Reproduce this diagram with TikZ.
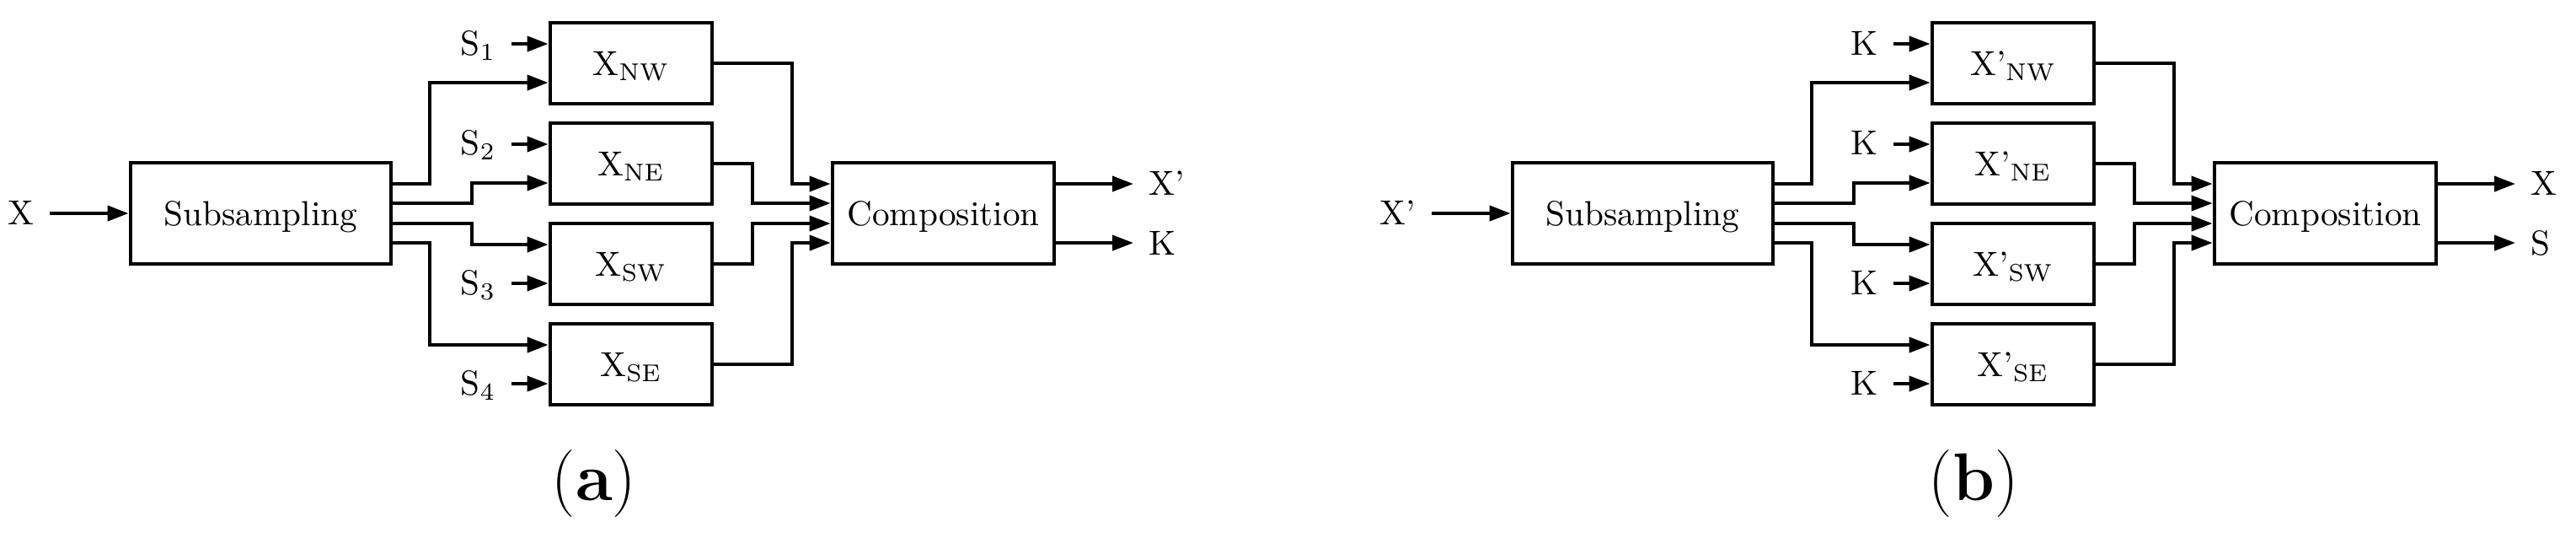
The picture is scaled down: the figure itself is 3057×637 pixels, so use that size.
\documentclass[tikz,border=0pt]{standalone}
\usepackage{fontspec}
\usetikzlibrary{arrows.meta,calc}
\newcommand\dfont{\fontsize{10.3pt}{12pt}\selectfont}
\newcommand\capfont{\fontsize{20pt}{24pt}\selectfont}
\newcommand\wiring[1]{%
  \coordinate (#1c1) at (510,0);
  \coordinate (#1c2) at (560,0);
  \coordinate (#1c3) at (893,0);
  \coordinate (#1c4) at (940,0);
  \coordinate (#1so1) at ([yshift=8.75pt]#1sub.east);
  \coordinate (#1so2) at ([yshift=3pt]#1sub.east);
  \coordinate (#1so3) at ([yshift=-3pt]#1sub.east);
  \coordinate (#1so4) at ([yshift=-8.75pt]#1sub.east);
  \coordinate (#1ci1) at ([yshift=8.75pt]#1comp.west);
  \coordinate (#1ci2) at ([yshift=3pt]#1comp.west);
  \coordinate (#1ci3) at ([yshift=-3pt]#1comp.west);
  \coordinate (#1ci4) at ([yshift=-8.75pt]#1comp.west);
  \coordinate (#1co1) at ([yshift=8.75pt]#1comp.east);
  \coordinate (#1co2) at ([yshift=-8.75pt]#1comp.east);
  \foreach \b in {nw,ne,sw,se}{
    \coordinate (#1\b A) at ([yshift=5.75pt]#1\b.west);
    \coordinate (#1\b B) at ([yshift=-5.75pt]#1\b.west);
  }
  \draw[conn] (#1in.east |- #1sub) -- (#1sub.west);
  \draw[conn] (#1so1) -| (#1c1 |- #1nwB) -- (#1nwB);
  \draw[conn] (#1so2) -| (#1c2 |- #1neB) -- (#1neB);
  \draw[conn] (#1so3) -| (#1c2 |- #1swA) -- (#1swA);
  \draw[conn] (#1so4) -| (#1c1 |- #1seA) -- (#1seA);
  \draw[conn] (#1s1.east |- #1nwA) -- (#1nwA);
  \draw[conn] (#1s2.east |- #1neA) -- (#1neA);
  \draw[conn] (#1s3.east |- #1swB) -- (#1swB);
  \draw[conn] (#1s4.east |- #1seB) -- (#1seB);
  \draw[conn] (#1nw.east) -| (#1c4 |- #1ci1) -- (#1ci1);
  \draw[conn] (#1ne.east) -| (#1c3 |- #1ci2) -- (#1ci2);
  \draw[conn] (#1sw.east) -| (#1c3 |- #1ci3) -- (#1ci3);
  \draw[conn] (#1se.east) -| (#1c4 |- #1ci4) -- (#1ci4);
  \draw[conn] (#1co1) -- (#1o1.west |- #1co1);
  \draw[conn] (#1co2) -- (#1o2.west |- #1co2);
}
\begin{document}
\begin{tikzpicture}[x=0.25pt,y=-0.25pt,
  box/.style={draw,line width=1.2pt,inner sep=0pt,font=\dfont,
    text height=7pt,text depth=0pt},
  bigbox/.style={box,minimum height=30pt},
  smallbox/.style={box,minimum width=48pt,minimum height=24pt},
  lbl/.style={inner sep=4.5pt,font=\dfont},
  conn/.style={line width=1pt,-{Triangle[length=6.25pt,width=4.5pt]}}]
\useasboundingbox (0,0) rectangle (3057,637);
% ---------- panel (a)
\begin{scope}
  \node[bigbox,minimum width=77.25pt] (asub) at (309.5,253) {Subsampling};
  \node[smallbox] (anw) at (749,75) {X\textsubscript{NW}};
  \node[smallbox] (ane) at (749,194) {X\textsubscript{NE}};
  \node[smallbox] (asw) at (749,313) {X\textsubscript{SW}};
  \node[smallbox] (ase) at (749,432) {X\textsubscript{SE}};
  \node[bigbox,minimum width=65.75pt] (acomp) at (1119.5,253) {Composition};
  \node[lbl,anchor=base east] (ain) at (59,266) {X};
  \node[lbl,anchor=base east] (as1) at (607,65) {S\textsubscript{1}};
  \node[lbl,anchor=base east] (as2) at (607,183) {S\textsubscript{2}};
  \node[lbl,anchor=base east] (as3) at (607,349) {S\textsubscript{3}};
  \node[lbl,anchor=base east] (as4) at (607,468) {S\textsubscript{4}};
  \node[lbl,anchor=base west] (ao1) at (1345,231) {X’};
  \node[lbl,anchor=base west] (ao2) at (1345,302) {K};
  \wiring{a}
  \node[font=\capfont] (acap) at (705,574) {(\textbf{a})};
\end{scope}
% ---------- panel (b)
\begin{scope}[xshift=410pt]
  \node[bigbox,minimum width=77.25pt] (bsub) at (309.5,253) {Subsampling};
  \node[smallbox] (bnw) at (749,75) {X’\textsubscript{NW}};
  \node[smallbox] (bne) at (749,194) {X’\textsubscript{NE}};
  \node[smallbox] (bsw) at (749,313) {X’\textsubscript{SW}};
  \node[smallbox] (bse) at (749,432) {X’\textsubscript{SE}};
  \node[bigbox,minimum width=65.75pt] (bcomp) at (1119.5,253) {Composition};
  \node[lbl,anchor=base east] (bin) at (59,266) {X’};
  \node[lbl,anchor=base east] (bs1) at (607,65) {K};
  \node[lbl,anchor=base east] (bs2) at (607,183) {K};
  \node[lbl,anchor=base east] (bs3) at (607,349) {K};
  \node[lbl,anchor=base east] (bs4) at (607,468) {K};
  \node[lbl,anchor=base west] (bo1) at (1345,231) {X};
  \node[lbl,anchor=base west] (bo2) at (1345,302) {S};
  \wiring{b}
  \node[font=\capfont] (bcap) at (702,574) {(\textbf{b})};
\end{scope}
\end{tikzpicture}
\end{document}
